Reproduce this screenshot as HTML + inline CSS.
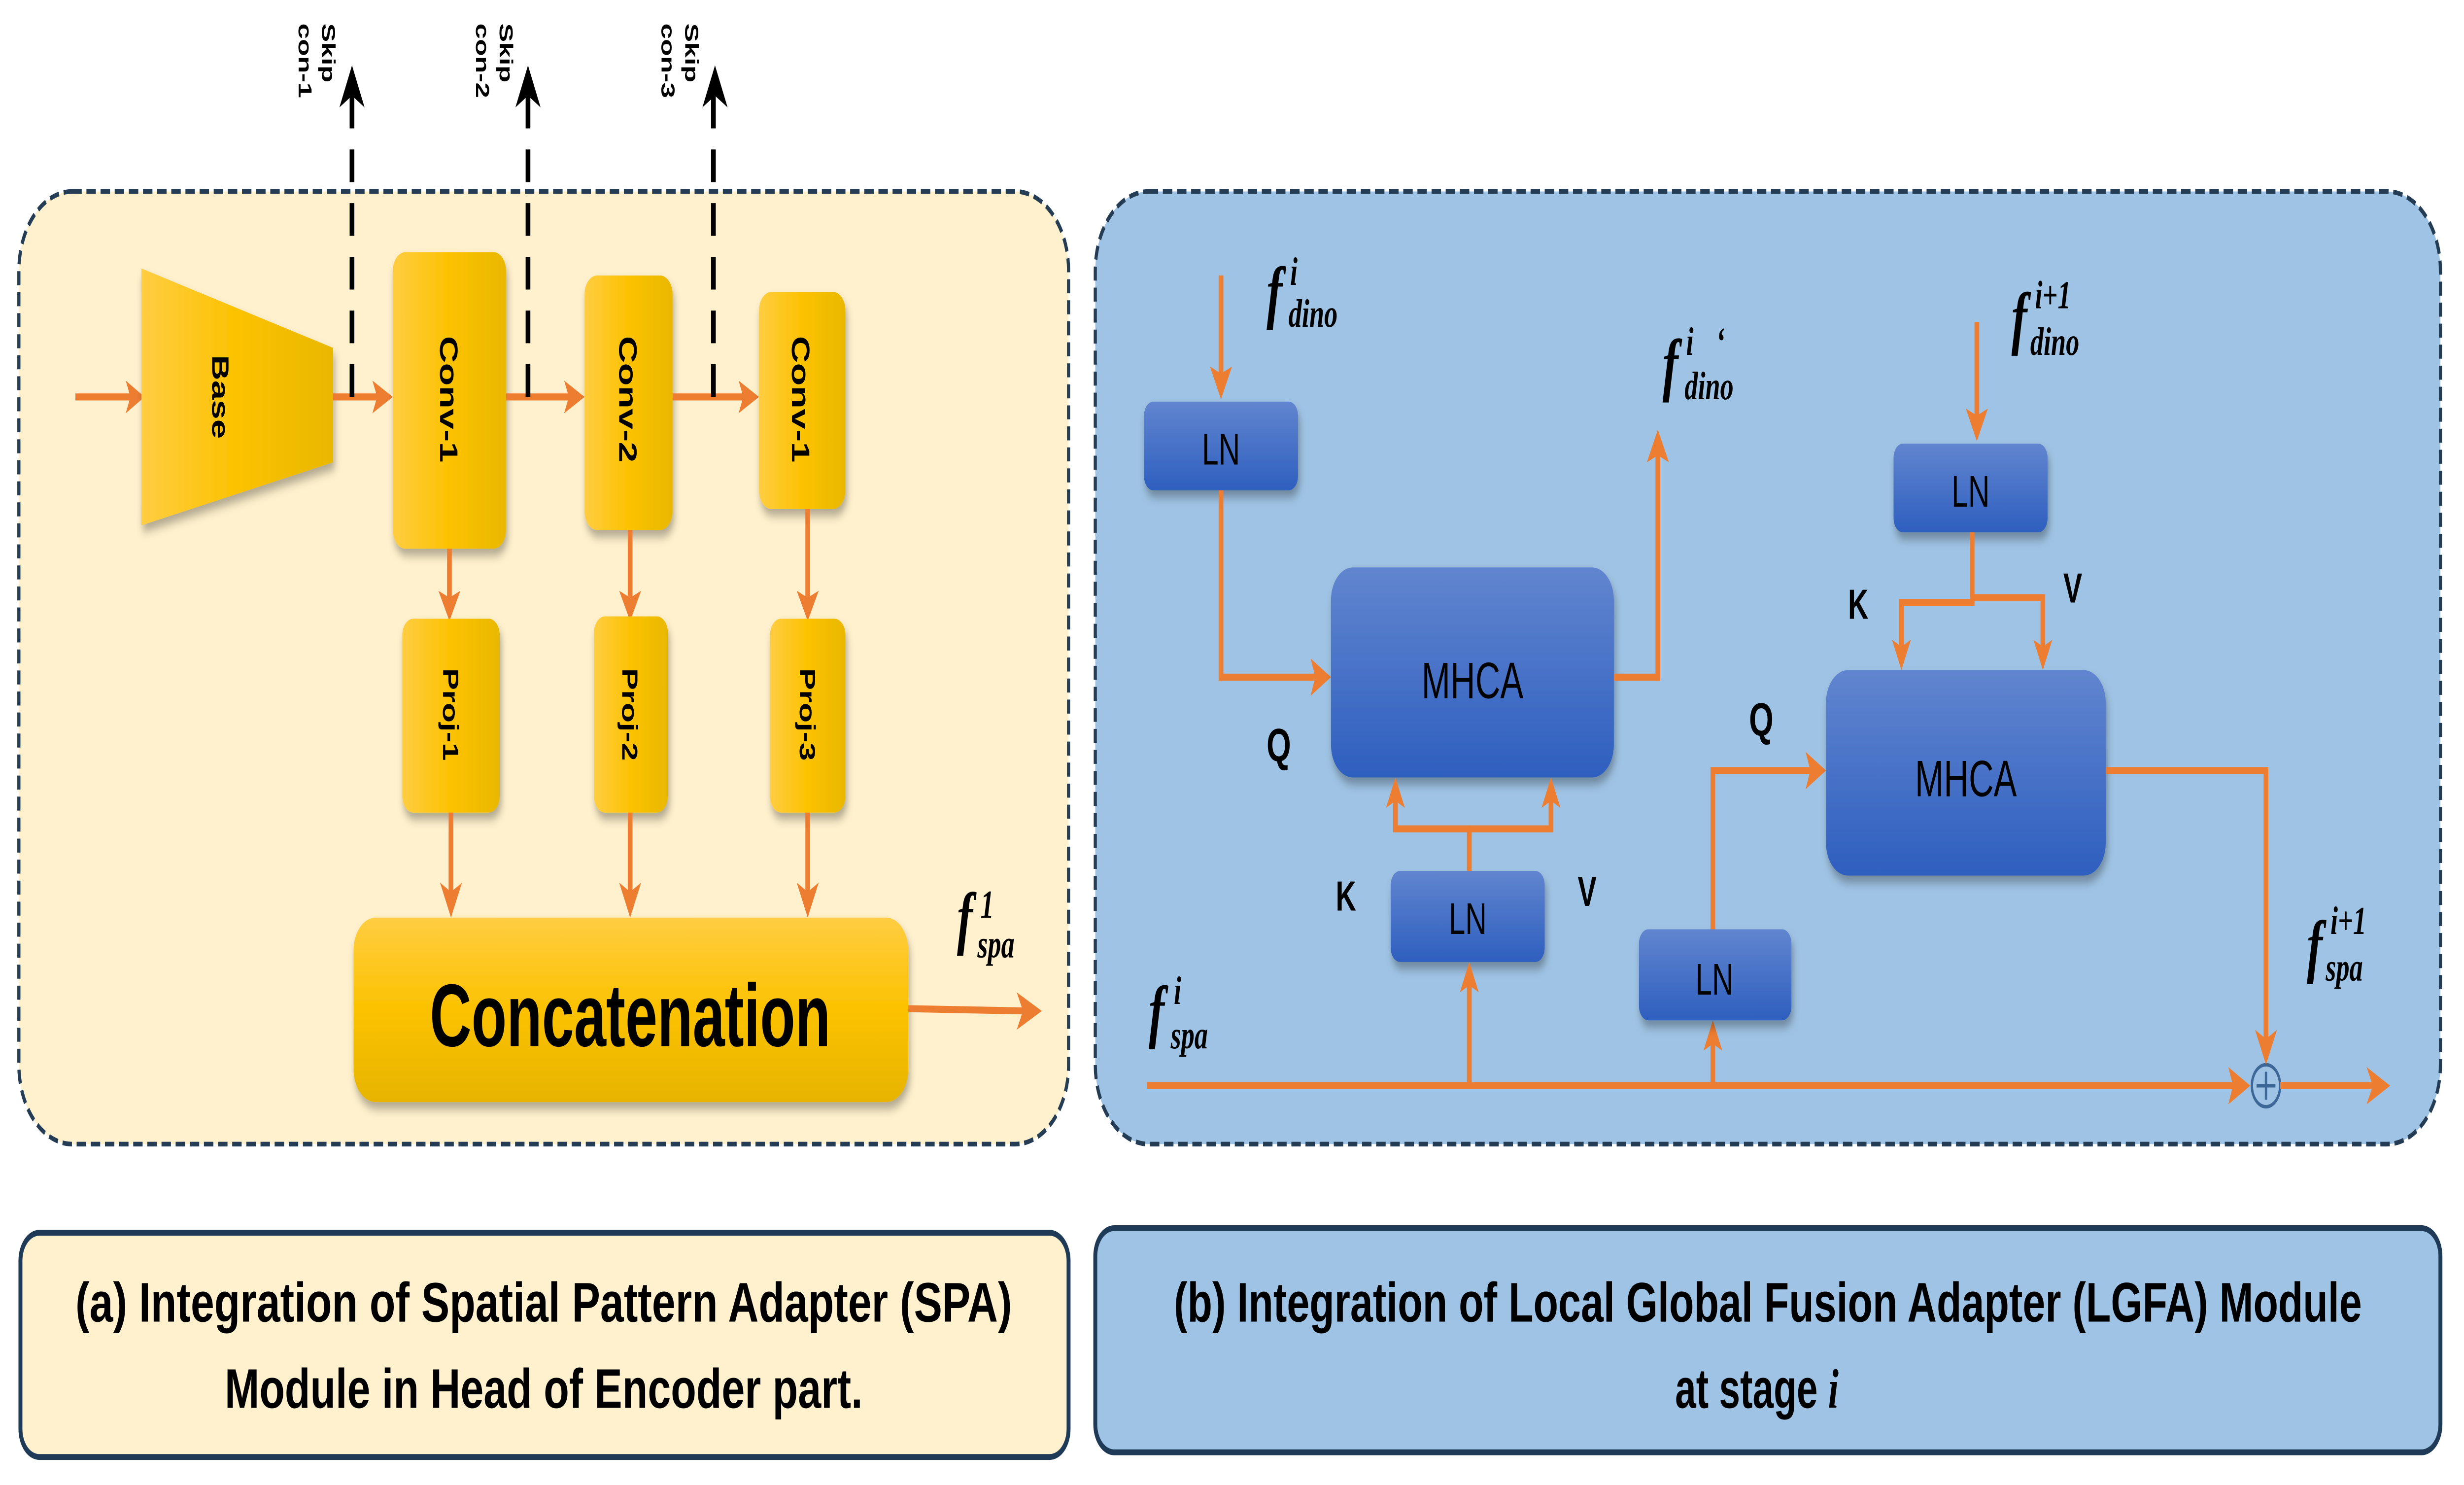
<!DOCTYPE html>
<html><head><meta charset="utf-8">
<style>
html,body{margin:0;padding:0;background:#fff;width:100%;height:100%;overflow:hidden;}
svg{display:block;width:100vw;height:100vh;position:absolute;left:0;top:0;}
</style></head>
<body>
<svg viewBox="0 0 1568 636" preserveAspectRatio="none" xmlns="http://www.w3.org/2000/svg">
<defs>
<linearGradient id="yh" x1="0" y1="0" x2="1" y2="0">
<stop offset="0" stop-color="#ffcd42"/><stop offset="0.5" stop-color="#fcc200"/><stop offset="1" stop-color="#e9b800"/>
</linearGradient>
<linearGradient id="yv" x1="0" y1="0" x2="0" y2="1">
<stop offset="0" stop-color="#ffcd42"/><stop offset="0.5" stop-color="#fcc200"/><stop offset="1" stop-color="#e6b400"/>
</linearGradient>
<linearGradient id="bl" x1="0" y1="0" x2="0" y2="1">
<stop offset="0" stop-color="#6185cf"/><stop offset="1" stop-color="#2e5fbf"/>
</linearGradient>
<filter id="sh" x="-20%" y="-20%" width="140%" height="150%">
<feDropShadow dx="1" dy="3" stdDeviation="2" flood-color="#000" flood-opacity="0.3"/>
</filter>
</defs>
<style>
.o{stroke:#ed7d31;stroke-width:3;fill:none;}
.ah{fill:#ed7d31;}
.t{font-family:"Liberation Sans",sans-serif;font-weight:bold;fill:#000;}
.m{font-family:"Liberation Serif",serif;font-style:italic;font-weight:bold;fill:#000;}
.n{font-family:"Liberation Sans",sans-serif;fill:#000;}
</style>

<rect x="12" y="82" width="668" height="408" rx="34" fill="#fff1cd" stroke="#243c54" stroke-width="2" stroke-dasharray="6,3"/>
<rect x="697" y="82" width="856" height="408" rx="34" fill="#9fc3e4" stroke="#243c54" stroke-width="2" stroke-dasharray="6,3"/>

<rect x="13" y="528" width="667" height="96" rx="12" fill="#fff1cd" stroke="#1f3a57" stroke-width="2.5"/>
<rect x="697" y="526" width="856" height="96" rx="12" fill="#9fc3e4" stroke="#1f3a57" stroke-width="2.5"/>
<text class="t" x="346" y="566" font-size="24" text-anchor="middle" textLength="596" lengthAdjust="spacingAndGlyphs">(a) Integration of Spatial Pattern Adapter (SPA)</text>
<text class="t" x="346" y="603" font-size="24" text-anchor="middle" textLength="406" lengthAdjust="spacingAndGlyphs">Module in Head of Encoder part.</text>
<text class="t" x="1125" y="566" font-size="24" text-anchor="middle" textLength="756" lengthAdjust="spacingAndGlyphs">(b) Integration of Local Global Fusion Adapter (LGFA) Module</text>
<text class="t" x="1118" y="603" font-size="24" text-anchor="middle">at stage <tspan font-family="Liberation Serif" font-style="italic">i</tspan></text>

<line class="o" x1="48" y1="170" x2="86" y2="170"/><polygon class="ah" points="92,170 80,163 83,170 80,177"/>
<polygon points="90,115 212,149 212,198 90,225" fill="url(#yh)" filter="url(#sh)"/>
<text class="t" transform="translate(140,170) rotate(90)" font-size="15" text-anchor="middle" dy="5">Base</text>
<line class="o" x1="212" y1="170" x2="243" y2="170"/><polygon class="ah" points="250,170 237,163 240,170 237,177"/>
<rect x="250" y="108" width="72" height="127" rx="8" fill="url(#yh)" filter="url(#sh)"/>
<text class="t" transform="translate(286,171) rotate(90)" font-size="16" text-anchor="middle" dy="6">Conv-1</text>
<line class="o" x1="322" y1="170" x2="365" y2="170"/><polygon class="ah" points="372,170 359,163 362,170 359,177"/>
<rect x="372" y="118" width="56" height="109" rx="8" fill="url(#yh)" filter="url(#sh)"/>
<text class="t" transform="translate(400,171) rotate(90)" font-size="16" text-anchor="middle" dy="6">Conv-2</text>
<line class="o" x1="428" y1="170" x2="476" y2="170"/><polygon class="ah" points="483,170 470,163 473,170 470,177"/>
<rect x="483" y="125" width="55" height="93" rx="8" fill="url(#yh)" filter="url(#sh)"/>
<text class="t" transform="translate(510,171) rotate(90)" font-size="16" text-anchor="middle" dy="6">Conv-1</text>

<g stroke="#000" stroke-width="3" stroke-dasharray="14,9" fill="none">
<line x1="224" y1="170" x2="224" y2="40"/>
<line x1="336" y1="170" x2="336" y2="40"/>
<line x1="454" y1="170" x2="454" y2="40"/>
</g>
<polygon points="224,28 216,46 224,41 232,46" fill="#000"/>
<polygon points="336,28 328,46 336,41 344,46" fill="#000"/>
<polygon points="455,28 447,46 455,41 463,46" fill="#000"/>
<g class="t" font-size="12">
<text transform="translate(205,10) rotate(90)">Skip</text>
<text transform="translate(190,10) rotate(90)">con-1</text>
<text transform="translate(318,10) rotate(90)">Skip</text>
<text transform="translate(303,10) rotate(90)">con-2</text>
<text transform="translate(436,10) rotate(90)">Skip</text>
<text transform="translate(421,10) rotate(90)">con-3</text>
</g>

<line class="o" x1="286" y1="235" x2="286" y2="260"/><polygon class="ah" points="286,266 279,253 286,256 293,253"/>
<line class="o" x1="401" y1="227" x2="401" y2="260"/><polygon class="ah" points="401,266 394,253 401,256 408,253"/>
<line class="o" x1="514" y1="218" x2="514" y2="260"/><polygon class="ah" points="514,266 507,253 514,256 521,253"/>
<rect x="256" y="265" width="62" height="83" rx="7" fill="url(#yh)" filter="url(#sh)"/>
<text class="t" transform="translate(287,306) rotate(90)" font-size="14" text-anchor="middle" dy="5">Proj-1</text>
<rect x="378" y="264" width="47" height="84" rx="7" fill="url(#yh)" filter="url(#sh)"/>
<text class="t" transform="translate(401,306) rotate(90)" font-size="14" text-anchor="middle" dy="5">Proj-2</text>
<rect x="490" y="265" width="48" height="83" rx="7" fill="url(#yh)" filter="url(#sh)"/>
<text class="t" transform="translate(514,306) rotate(90)" font-size="14" text-anchor="middle" dy="5">Proj-3</text>
<line class="o" x1="287" y1="348" x2="287" y2="386"/><polygon class="ah" points="287,393 280,378 287,382 294,378"/>
<line class="o" x1="401" y1="348" x2="401" y2="386"/><polygon class="ah" points="401,393 394,378 401,382 408,378"/>
<line class="o" x1="514" y1="348" x2="514" y2="386"/><polygon class="ah" points="514,393 507,378 514,382 521,378"/>
<rect x="225" y="393" width="353" height="79" rx="14" fill="url(#yv)" filter="url(#sh)"/>
<text class="t" x="401" y="448" font-size="38" text-anchor="middle" textLength="255" lengthAdjust="spacingAndGlyphs">Concatenation</text>
<line class="o" x1="578" y1="432" x2="655" y2="433"/><polygon class="ah" points="663,433 647,425 651,433 647,441"/>
<text class="m" x="609" y="403" font-size="30">f</text>
<text class="m" x="624" y="393" font-size="17">1</text>
<text class="m" x="622" y="410" font-size="17">spa</text>

<text class="m" x="806" y="135" font-size="30">f</text>
<text class="m" x="821" y="122" font-size="17">i</text>
<text class="m" x="820" y="140" font-size="17">dino</text>
<line class="o" x1="777" y1="118" x2="777" y2="164"/><polygon class="ah" points="777,171 770,157 777,160 784,157"/>
<rect x="728" y="172" width="98" height="38" rx="6" fill="url(#bl)" filter="url(#sh)"/>
<text class="n" x="777" y="199" font-size="19" text-anchor="middle">LN</text>
<polyline class="o" points="777,210 777,290 839,290"/><polygon class="ah" points="847,290 834,282 837,290 834,298"/>
<text class="t" x="806" y="326" font-size="20">Q</text>
<rect x="847" y="243" width="180" height="90" rx="14" fill="url(#bl)" filter="url(#sh)"/>
<text class="n" x="937" y="299" font-size="22" text-anchor="middle">MHCA</text>
<polyline class="o" points="1027,290 1055,290 1055,192"/><polygon class="ah" points="1055,184 1048,198 1055,195 1062,198"/>
<text class="m" x="1058" y="166" font-size="30">f</text>
<text class="m" x="1073" y="152" font-size="17">i</text>
<text class="m" x="1072" y="171" font-size="17">dino</text>
<text class="m" x="1092" y="152" font-size="17">‘</text>

<rect x="885" y="373" width="98" height="39" rx="6" fill="url(#bl)" filter="url(#sh)"/>
<text class="n" x="934" y="400" font-size="19" text-anchor="middle">LN</text>
<polyline class="o" points="935,373 935,355 888,355 888,340"/><polygon class="ah" points="888,333 882,346 888,343 894,346"/>
<polyline class="o" points="935,355 987,355 987,340"/><polygon class="ah" points="987,333 981,346 987,343 993,346"/>
<text class="t" x="850" y="390" font-size="18">K</text>
<text class="t" x="1004" y="388" font-size="18">V</text>

<text class="m" x="731" y="443" font-size="30">f</text>
<text class="m" x="747" y="430" font-size="17">i</text>
<text class="m" x="745" y="449" font-size="17">spa</text>
<line class="o" x1="730" y1="465" x2="1423" y2="465"/><polygon class="ah" points="1432,465 1418,457 1421,465 1418,473"/>
<circle cx="1442" cy="465" r="9" fill="#9fc3e4" stroke="#3d6797" stroke-width="1.5"/>
<line x1="1436" y1="465" x2="1448" y2="465" stroke="#3d6797" stroke-width="1.5"/>
<line x1="1442" y1="459" x2="1442" y2="471" stroke="#3d6797" stroke-width="1.5"/>
<line class="o" x1="1451" y1="465" x2="1512" y2="465"/><polygon class="ah" points="1521,465 1506,457 1510,465 1506,473"/>
<line class="o" x1="935" y1="465" x2="935" y2="419"/><polygon class="ah" points="935,412 929,425 935,422 941,425"/>
<line class="o" x1="1090" y1="465" x2="1090" y2="444"/><polygon class="ah" points="1090,437 1084,450 1090,447 1096,450"/>

<rect x="1043" y="398" width="97" height="39" rx="6" fill="url(#bl)" filter="url(#sh)"/>
<text class="n" x="1091" y="426" font-size="19" text-anchor="middle">LN</text>
<polyline class="o" points="1090,398 1090,330 1154,330"/><polygon class="ah" points="1162,330 1149,322 1152,330 1149,338"/>
<text class="t" x="1113" y="315" font-size="20">Q</text>

<rect x="1162" y="287" width="178" height="88" rx="14" fill="url(#bl)" filter="url(#sh)"/>
<text class="n" x="1251" y="341" font-size="22" text-anchor="middle">MHCA</text>
<polyline class="o" points="1340,330 1442,330 1442,448"/><polygon class="ah" points="1442,456 1435,441 1442,445 1449,441"/>
<text class="m" x="1468" y="415" font-size="30">f</text>
<text class="m" x="1483" y="400" font-size="17">i+1</text>
<text class="m" x="1480" y="420" font-size="17">spa</text>

<text class="m" x="1280" y="146" font-size="30">f</text>
<text class="m" x="1295" y="132" font-size="17">i+1</text>
<text class="m" x="1292" y="152" font-size="17">dino</text>
<line class="o" x1="1258" y1="138" x2="1258" y2="182"/><polygon class="ah" points="1258,189 1251,175 1258,178 1265,175"/>
<rect x="1205" y="190" width="98" height="38" rx="6" fill="url(#bl)" filter="url(#sh)"/>
<text class="n" x="1254" y="217" font-size="19" text-anchor="middle">LN</text>
<polyline class="o" points="1255,228 1255,258 1210,258 1210,280"/><polygon class="ah" points="1210,287 1204,274 1210,277 1216,274"/>
<polyline class="o" points="1255,256 1300,256 1300,280"/><polygon class="ah" points="1300,287 1294,274 1300,277 1306,274"/>
<text class="t" x="1176" y="265" font-size="18">K</text>
<text class="t" x="1313" y="258" font-size="18">V</text>
</svg>
</body></html>
